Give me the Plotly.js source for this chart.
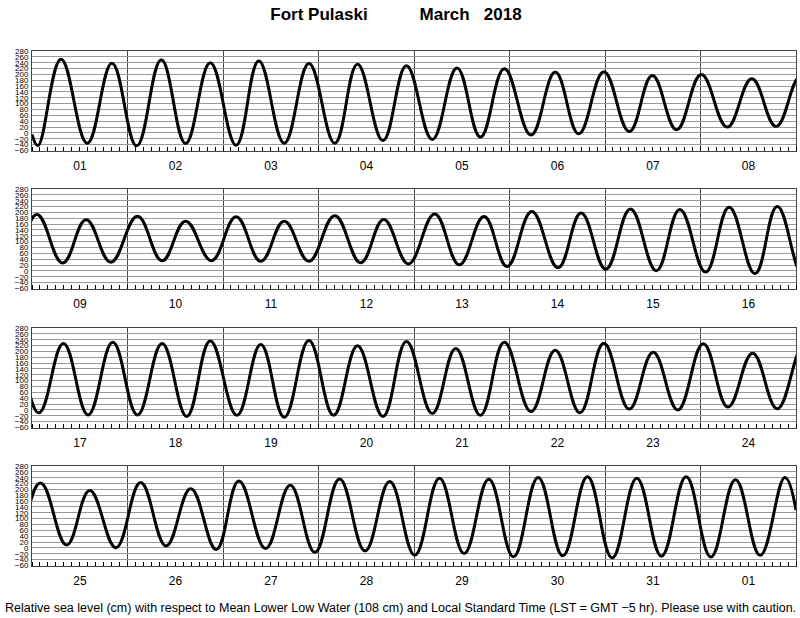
<!DOCTYPE html>
<html>
<head>
<meta charset="utf-8">
<script src="https://cdn.plot.ly/plotly-3.0.1.min.js"></script>
<style>html,body{margin:0;padding:0;background:#fff;}#chart{width:800px;height:618px;}</style>
</head>
<body>
<div id="chart"></div>
<script>
// Tide extremes: hours since 1 March 00:00 LST, level in cm above MLLW
var p1Hours  = [0, 1.5, 7.3, 13.9, 20.1, 26.3, 32.5, 38.6, 44.8, 51.3, 57.0, 63.4, 69.6, 76.1, 81.8, 88.2, 94.1, 100.6, 106.8, 112.7, 118.7, 125.4, 131.5, 137.4, 143.7, 150.1, 155.9, 162.0, 168.2, 174.7, 180.9, 187.0];
var p1Levels = [-5, -43, 252, -35, 238, -44, 250, -36, 240, -42, 246, -35, 237, -35, 235, -26, 230, -22, 222, -14, 219, -7, 208, -3, 209, 5, 196, 11, 200, 20, 185, 22];
var p2Hours  = [193.2, 199.7, 205.6, 211.8, 218.5, 224.7, 230.6, 237.1, 243.3, 249.5, 255.4, 261.6, 268.1, 274.6, 280.4, 286.6, 293.2, 299.4, 305.6, 311.4, 317.6, 324.2, 330.0, 336.2, 342.4, 348.9, 354.8, 361.3, 367.2, 373.7, 379.3];
var p2Levels = [193, 27, 175, 30, 187, 35, 170, 35, 185, 33, 170, 33, 189, 28, 176, 24, 195, 21, 186, 15, 203, 11, 198, 6, 212, 1, 210, -4, 218, -9, 220];
var p3Hours  = [385.7, 391.9, 398.1, 404.3, 410.5, 416.7, 422.9, 428.8, 435.5, 441.5, 447.4, 453.6, 459.8, 465.8, 472.2, 478.1, 484.6, 490.5, 496.7, 502.7, 509.4, 515.5, 521.7, 527.7, 534.1, 540.1, 546.3, 552.7, 558.9, 565.1, 571.3];
var p3Levels = [-10, 227, -17, 231, -17, 227, -22, 236, -18, 224, -25, 237, -18, 219, -22, 234, -12, 210, -18, 231, -6, 204, -10, 228, 3, 197, 0, 226, 10, 194, 4];
var p4Hours  = [578.1, 584.7, 590.5, 597.1, 603.3, 609.7, 615.9, 622.3, 628.0, 634.7, 640.9, 647.1, 653.3, 659.7, 665.9, 672.2, 678.4, 684.6, 690.8, 697.0, 703.2, 709.4, 715.6, 721.8, 728.0, 734.2, 740.4, 746.6, 752.8, 759.0, 765.2, 768];
var p4Levels = [222, 10, 196, 1, 224, 7, 202, -5, 229, -2, 214, -15, 236, -10, 227, -25, 238, -19, 235, -30, 241, -27, 243, -34, 238, -28, 243, -31, 233, -25, 241, 130];

var dayLabels = ['01','02','03','04','05','06','07','08','09','10','11','12','13','14','15','16',
                 '17','18','19','20','21','22','23','24','25','26','27','28','29','30','31','01'];
var titleText = 'Fort Pulaski' + '\u00A0'.repeat(11) + 'March' + '\u00A0'.repeat(3) + '2018';
var footText = 'Relative sea level (cm) with respect to Mean Lower Low Water (108 cm) and Local Standard Time (LST = GMT \u22125 hr). Please use with caution.';

(function () {
  var allHours = p1Hours.concat(p2Hours, p3Hours, p4Hours);
  var allLevels = p1Levels.concat(p2Levels, p3Levels, p4Levels);

  var W = 800, H = 618;
  var panelTops = [51, 189, 328, 466];
  var panelH = 99.5;
  var xLeft = 32, xRight = 796;
  var xDom = [xLeft / W, xRight / W];
  var hoursPerPanel = 192;
  var halfDayPx = Math.round((xRight - xLeft) / 16);

  var data = [];
  var layout = {
    width: W, height: H,
    margin: {l: 0, r: 0, t: 0, b: 0},
    paper_bgcolor: '#fff', plot_bgcolor: '#fff',
    showlegend: false,
    font: {family: '"Liberation Sans", Arial, sans-serif', color: '#000'},
    title: {text: titleText, x: 0.5 - 4 / W, xanchor: 'center', y: 1 - 14 / H, yanchor: 'middle',
            font: {size: 17, family: '"Liberation Sans", Arial, sans-serif', weight: 'bold', color: '#000'}},
    annotations: [{
      text: footText, xref: 'paper', yref: 'paper', x: 0.5, y: 1 - 608 / H,
      xanchor: 'center', yanchor: 'middle', showarrow: false,
      font: {size: 12.5, family: '"Liberation Sans", Arial, sans-serif', color: '#000'}
    }]
  };

  for (var i = 0; i < 4; i++) {
    var n = i + 1;
    var xs = n === 1 ? '' : String(n);
    var r0 = i * hoursPerPanel, r1 = (i + 1) * hoursPerPanel;
    var pTop = panelTops[i];
    var yDom = [1 - (pTop + panelH) / H, 1 - pTop / H];

    data.push({
      type: 'scatter', mode: 'lines', x: allHours, y: allLevels,
      xaxis: 'x' + xs, yaxis: 'y' + xs,
      line: {color: '#000', width: 3, shape: 'spline', smoothing: 1.2},
      hoverinfo: 'skip', cliponaxis: true
    });

    var starts = [], labels = [];
    for (var d = 0; d < 8; d++) {
      starts.push(r0 + 24 * d);
      labels.push(dayLabels[i * 8 + d]);
    }

    layout['xaxis' + xs] = {
      domain: xDom, range: [r0, r1], anchor: 'y' + xs,
      tickmode: 'array', tickvals: starts, ticktext: labels,
      ticklabelshift: halfDayPx, ticklabelstandoff: 4,
      showgrid: true, gridcolor: '#444', gridwidth: 1,
      ticks: '', zeroline: false,
      showline: true, mirror: true, linecolor: '#444', linewidth: 1,
      tickfont: {size: 12, color: '#000'},
      minor: {tick0: 0, dtick: 2, ticks: 'inside', ticklen: 4, tickcolor: '#000', tickwidth: 1, showgrid: false},
      fixedrange: true
    };
    layout['yaxis' + xs] = {
      domain: yDom, range: [-60, 280], anchor: 'x' + xs,
      tick0: 0, dtick: 20, showgrid: true, gridcolor: '#9a9a9a', gridwidth: 1,
      ticks: '', zeroline: false, showline: true, mirror: true, linecolor: '#444', linewidth: 1,
      tickfont: {size: 8, color: '#000'}, ticklabelstandoff: 1, fixedrange: true
    };
  }

  Plotly.newPlot('chart', data, layout, {displayModeBar: false, staticPlot: true});
})();
</script>
</body>
</html>
